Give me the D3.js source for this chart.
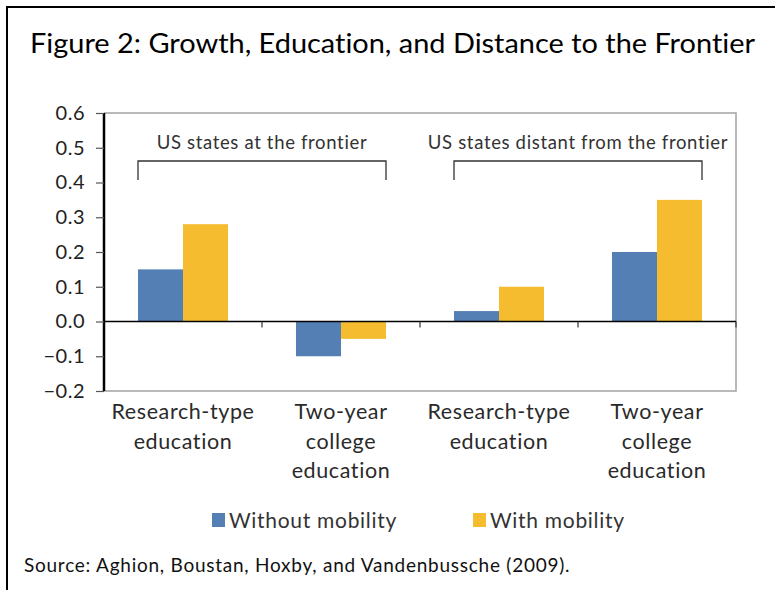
<!DOCTYPE html>
<html><head><meta charset="utf-8">
<script src="https://cdn.jsdelivr.net/npm/d3@7/dist/d3.min.js"></script>
<style>body{margin:0;background:#fff}svg{display:block}text{font-family:Lato,"Open Sans",sans-serif;font-variant-ligatures:none}</style>
</head><body><svg id="c" width="775" height="590"></svg>
<script>
const categories = [["Research-type","education"],["Two-year","college","education"],["Research-type","education"],["Two-year","college","education"]];
const seriesNames = ["Without mobility","With mobility"];
const withoutMobility = [0.15,-0.10,0.03,0.20];
const withMobility = [0.28,-0.05,0.10,0.35];
const yTicks = [-0.2,-0.1,0,0.1,0.2,0.3,0.4,0.5,0.6];
const groups = [{label:"US states at the frontier", from:0, to:1},{label:"US states distant from the frontier", from:2, to:3}];
const colors = ["#537FB4","#F4BC2E"];

(function(){
const svg = d3.select("#c");
const W=775,H=590;
svg.append("rect").attr("width",W).attr("height",H).attr("fill","#fff");
svg.append("path").attr("d","M7,590V7H775").attr("fill","none").attr("stroke","#000").attr("stroke-width",2);

svg.append("text").attr("x",30).attr("y",53).attr("font-size",27).attr("fill","#000")
  .attr("textLength",725).attr("lengthAdjust","spacingAndGlyphs")
  .text("Figure 2: Growth, Education, and Distance to the Frontier");

const pl=104,pr=736,pt=113,pb=391;
const idx = d3.range(categories.length);
const x0 = d3.scaleBand().domain(idx).range([pl,pr]);
const x1 = d3.scaleBand().domain([0,1]).range([34,x0.bandwidth()-34]);
const y = d3.scaleLinear().domain([-0.2,0.6]).range([pb,pt]);

svg.append("path").attr("d",`M${pl},${pt}H${pr}V${pb}H${pl}`).attr("fill","none").attr("stroke","#a3a3a3").attr("stroke-width",1.5);

const data = [withoutMobility, withMobility];
data.forEach((vals,s)=>{
  svg.append("g").selectAll("rect").data(vals).join("rect")
    .attr("x",(d,i)=>x0(i)+x1(s)).attr("width",x1.bandwidth())
    .attr("y",d=>y(Math.max(0,d))).attr("height",d=>Math.abs(y(d)-y(0)))
    .attr("fill",colors[s]);
});

const ya = svg.append("g").attr("transform",`translate(${pl},0)`)
  .call(d3.axisLeft(y).tickValues(yTicks).tickFormat(d3.format(".1f")).tickSize(8).tickPadding(11));
ya.select(".domain").attr("stroke","#000").attr("stroke-width",2.5).attr("d",`M0,${pt}V${pb}`);
ya.selectAll(".tick line").attr("stroke","#555").attr("stroke-width",1.2);
ya.selectAll(".tick text").attr("font-size",20).attr("fill","#222").attr("font-family","Lato,sans-serif").attr("letter-spacing",0.5);

svg.append("line").attr("x1",pl).attr("x2",pr).attr("y1",y(0)).attr("y2",y(0)).attr("stroke","#000").attr("stroke-width",1.5);
svg.append("g").selectAll("line").data(idx.map(i=>x0(i)+x0.bandwidth())).join("line")
  .attr("x1",d=>d).attr("x2",d=>d).attr("y1",y(0)).attr("y2",y(0)+6).attr("stroke","#333").attr("stroke-width",1.2);

categories.forEach((lines,i)=>{
  const t = svg.append("text").attr("text-anchor","middle").attr("font-size",21.5).attr("letter-spacing",0.6).attr("fill","#2a2a2a");
  lines.forEach((ln,j)=>t.append("tspan").attr("x",x0(i)+x0.bandwidth()/2).attr("y",419+j*29.5).text(ln));
});

groups.forEach(g=>{
  const xa = x0(g.from)+x1(0), xb = x0(g.to)+x1(1)+x1.bandwidth();
  svg.append("path").attr("d",`M${xa},180V161H${xb}V180`).attr("fill","none").attr("stroke","#333").attr("stroke-width",1.3);
  svg.append("text").attr("x",(xa+xb)/2).attr("y",149).attr("text-anchor","middle").attr("font-size",18.5).attr("letter-spacing",0.66).attr("fill","#333").text(g.label);
});

const legX=[212,473];
seriesNames.forEach((n,i)=>{
  svg.append("rect").attr("x",legX[i]).attr("y",513).attr("width",13).attr("height",14).attr("fill",colors[i]);
  svg.append("text").attr("x",legX[i]+17).attr("y",528).attr("font-size",21).attr("letter-spacing",0.7).attr("fill","#333").text(n);
});

svg.append("text").attr("x",24).attr("y",572).attr("font-size",19).attr("letter-spacing",0.75).attr("fill","#111")
  .text("Source: Aghion, Boustan, Hoxby, and Vandenbussche (2009).");
})();
</script></body></html>
